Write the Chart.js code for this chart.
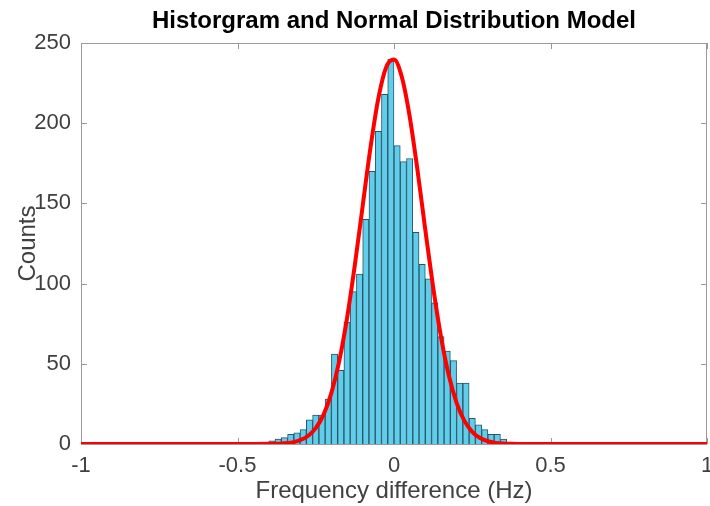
<!DOCTYPE html>
<html>
<head>
<meta charset="utf-8">
<script src="https://cdn.jsdelivr.net/npm/chart.js@4"></script>
<style>
  body { margin: 0; background: #fff; }
  canvas { display: block; }
</style>
</head>
<body>
<canvas id="myChart" width="710" height="506"></canvas>
<script>
// histogram bins (centres, width 0.02 Hz) and counts
const binCenters = [-0.41, -0.39, -0.37, -0.35, -0.33, -0.31, -0.29, -0.27, -0.25, -0.23,
                    -0.21, -0.19, -0.17, -0.15, -0.13, -0.11, -0.09, -0.07, -0.05, -0.03,
                    -0.01, 0.01, 0.03, 0.05, 0.07, 0.09, 0.11, 0.13, 0.15, 0.17,
                    0.19, 0.21, 0.23, 0.25, 0.27, 0.29, 0.31, 0.33, 0.35, 0.37];
const counts = [1, 2, 3, 4, 6, 7, 9, 15, 18, 18,
                28, 56, 46, 76, 95, 106, 140, 170, 195, 218,
                240, 186, 176, 178, 132, 112, 103, 88, 67, 58,
                52, 38, 38, 16, 12, 9, 6, 6, 3, 1];

// normal model curve
const fitX = [-1, -0.45, -0.4, -0.375, -0.35, -0.325, -0.3, -0.275, -0.25, -0.225, -0.2, -0.175,
              -0.15, -0.125, -0.1, -0.075, -0.05, -0.025, 0, 0.025, 0.05, 0.075, 0.1, 0.125,
              0.15, 0.175, 0.2, 0.225, 0.25, 0.275, 0.3, 0.325, 0.35, 0.375, 0.4, 1];
const fitY = [0, 0, 0.1, 0.2, 0.4, 1, 2.4, 5, 9.9, 18.3, 31.9, 51.7,
              78.5, 111.7, 148.6, 185, 215.5, 234.9, 239.7, 228.8, 204.3, 170.8, 133.6, 97.8,
              67, 42.9, 25.7, 14.4, 7.6, 3.7, 1.7, 0.7, 0.3, 0.1, 0, 0];

const xTicks = [-1, -0.5, 0, 0.5, 1];
const yTicks = [0, 50, 100, 150, 200, 250];

const font = "'Liberation Sans', Arial, Helvetica, sans-serif";
const ctx = document.getElementById('myChart').getContext('2d');

// matlab style box with inward tick marks
const boxAxes = {
    id: 'boxAxes',
    beforeDatasetsDraw(chart) {
        const {ctx, chartArea: a, scales} = chart;
        const len = 6;
        ctx.save();
        ctx.strokeStyle = '#9a9a9a';
        ctx.lineWidth = 1;
        ctx.strokeRect(a.left + 0.5, a.top + 0.5, a.right - a.left - 1, a.bottom - a.top);
        ctx.beginPath();
        xTicks.forEach(v => {
            let px = Math.round(scales.x.getPixelForValue(v)) + 0.5;
            ctx.moveTo(px, a.bottom); ctx.lineTo(px, a.bottom - len);
            ctx.moveTo(px, a.top); ctx.lineTo(px, a.top + len);
        });
        yTicks.forEach(v => {
            let py = Math.round(scales.y.getPixelForValue(v)) + 0.5;
            ctx.moveTo(a.left, py); ctx.lineTo(a.left + len, py);
            ctx.moveTo(a.right, py); ctx.lineTo(a.right - len, py);
        });
        ctx.stroke();
        ctx.restore();
    }
};

const myChart = new Chart(ctx, {
    type: 'bar',
    data: {
        datasets: [{
            type: 'line',
            data: fitX.map((x, i) => ({x: x, y: fitY[i]})),
            borderColor: '#ff0000',
            borderWidth: 4,
            pointRadius: 0,
            cubicInterpolationMode: 'monotone',
            order: 0
        }, {
            data: binCenters.map((x, i) => ({x: x, y: counts[i]})),
            backgroundColor: '#60cdeb',
            borderColor: '#2a5566',
            borderWidth: 1,
            barPercentage: 1,
            categoryPercentage: 1,
            order: 1
        }]
    },
    options: {
        responsive: false,
        animation: false,
        layout: { padding: { left: 0, right: 3, top: 0, bottom: 0 } },
        plugins: {
            legend: { display: false },
            tooltip: { enabled: false }
        },
        scales: {
            x: {
                type: 'linear',
                offset: false,
                min: -1,
                max: 1,
                afterBuildTicks: s => { s.ticks = xTicks.map(v => ({value: v})); },
                afterFit: s => { s.height = 62; s.paddingLeft = 0; s.paddingRight = 0; },
                grid: { display: false, drawTicks: false },
                border: { display: false },
                ticks: {
                    color: '#404040',
                    font: { family: font, size: 22 },
                    padding: 9,
                    maxRotation: 0,
                    callback: v => String(v)
                },
                title: {
                    display: true,
                    text: 'Frequency difference (Hz)',
                    color: '#404040',
                    font: { family: font, size: 24 },
                    padding: 0
                }
            },
            x2: {
                type: 'linear',
                position: 'top',
                min: -1,
                max: 1,
                afterFit: s => { s.height = 43; s.paddingLeft = 0; s.paddingRight = 0; },
                grid: { display: false, drawTicks: false },
                border: { display: false },
                ticks: { display: false },
                title: {
                    display: true,
                    text: 'Historgram and Normal Distribution Model',
                    color: '#000',
                    font: { family: font, size: 24, weight: 'bold' },
                    padding: { top: 7, bottom: 0 }
                }
            },
            y: {
                min: 0,
                max: 250,
                afterBuildTicks: s => { s.ticks = yTicks.map(v => ({value: v})); },
                afterFit: s => { s.width = 81; s.paddingTop = 0; s.paddingBottom = 0; },
                grid: { display: false, drawTicks: false },
                border: { display: false },
                ticks: { color: '#404040', font: { family: font, size: 22 }, padding: 10 },
                title: {
                    display: true,
                    text: 'Counts',
                    color: '#404040',
                    font: { family: font, size: 24 },
                    padding: { top: 14, bottom: 0 }
                }
            }
        }
    },
    plugins: [boxAxes]
});
</script>
</body>
</html>
